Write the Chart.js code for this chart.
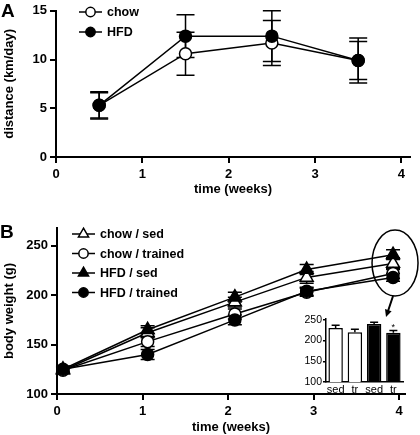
<!DOCTYPE html>
<html>
<head>
<meta charset="utf-8">
<script src="https://cdn.jsdelivr.net/npm/chart.js@4.4.1/dist/chart.umd.min.js"></script>
<style>
  body { margin: 0; background: #fff; }
  #wrap { position: relative; width: 420px; height: 435px; overflow: hidden; font-family: Arial, "Liberation Sans", sans-serif; }
  canvas { position: absolute; }
  .panel { position: absolute; font-weight: bold; font-size: 19px; color: #000; line-height: 1; }
</style>
</head>
<body>
<div id="wrap">
  <canvas id="chartA" width="420" height="210" style="left:0;top:0"></canvas>
  <canvas id="chartB" width="420" height="225" style="left:0;top:210px"></canvas>
  <canvas id="inset" width="125" height="95" style="left:290px;top:300px"></canvas>
  <div class="panel" style="left:1px;top:1px">A</div>
  <div class="panel" style="left:0;top:222px">B</div>
</div>
<script>
// ------------------ DATA ------------------
// panel A: running distance
const weeksA = [0.5, 1.5, 2.5, 3.5];
const chowDistance = [5.3, 10.6, 11.7, 9.9];
const chowDistanceErr = [1.3, 2.2, 2.3, 1.95];
const hfdDistance = [5.3, 12.4, 12.4, 9.9];
const hfdDistanceErr = [1.4, 2.2, 2.6, 2.3];
const distanceTicks = [0, 5, 10, 15];
const weekTicks = [0, 1, 2, 3, 4];

// panel B: body weight
const weeksB = [0.07, 1.06, 2.08, 2.92, 3.93];
const chowSedWeight = [124, 162, 193, 218, 232];
const chowSedErr = [3, 5, 5, 6, 6];
const chowTrWeight = [124, 153, 181, 203, 222];
const chowTrErr = [3, 5, 5, 4, 5];
const hfdSedWeight = [125, 165, 198, 226, 241];
const hfdSedErr = [3, 4, 5, 5, 5];
const hfdTrWeight = [125, 140, 175, 204, 218];
const hfdTrErr = [3, 5, 5, 4, 4];
const weightTicks = [100, 150, 200, 250];

// inset: week 4 weights
const insetLabels = ["sed", "tr", "sed", "tr"];
const insetWeights = [230, 220, 240, 219];
const insetErr = [7, 7, 4, 5];
const insetColors = ["#fff", "#fff", "#000", "#000"];
const insetStars = ["", "", "", "*"];

// ------------------ HELPERS ------------------
Chart.defaults.color = "#000";
Chart.defaults.font.family = 'Arial, "Liberation Sans", sans-serif';
const boldFont = { size: 13, weight: "bold" };

function toPoints(xs, ys) {
    return xs.map((x, i) => ({ x: x, y: ys[i] }));
}

function drawMarker(ctx, style, fill, x, y, r) {
    ctx.beginPath();
    if (style === "triangle") {
        let a = 0;
        ctx.moveTo(x + Math.sin(a) * r, y - Math.cos(a) * r);
        a += 2 * Math.PI / 3;
        ctx.lineTo(x + Math.sin(a) * r, y - Math.cos(a) * r);
        a += 2 * Math.PI / 3;
        ctx.lineTo(x + Math.sin(a) * r, y - Math.cos(a) * r);
        ctx.closePath();
    } else {
        ctx.arc(x, y, r, 0, Math.PI * 2);
    }
    ctx.fillStyle = fill;
    ctx.fill();
    ctx.lineWidth = 1.5;
    ctx.strokeStyle = "#000";
    ctx.stroke();
}

// error bars drawn behind the markers
const errorBars = {
    id: "errorBars",
    beforeDatasetsDraw(chart, args, opts) {
        const ctx = chart.ctx;
        const yScale = chart.scales.y;
        ctx.save();
        ctx.strokeStyle = "#000";
        ctx.lineWidth = opts.lineWidth || 1.5;
        chart.data.datasets.forEach((ds, i) => {
            if (!ds.err) return;
            const meta = chart.getDatasetMeta(i);
            meta.data.forEach((el, j) => {
                const v = typeof ds.data[j] === "object" ? ds.data[j].y : ds.data[j];
                const top = yScale.getPixelForValue(v + ds.err[j]);
                const bot = opts.upperOnly ? yScale.getPixelForValue(v) : yScale.getPixelForValue(v - ds.err[j]);
                const w = opts.capWidth;
                ctx.beginPath();
                ctx.moveTo(el.x, top); ctx.lineTo(el.x, bot);
                ctx.moveTo(el.x - w, top); ctx.lineTo(el.x + w, top);
                if (!opts.upperOnly) { ctx.moveTo(el.x - w, bot); ctx.lineTo(el.x + w, bot); }
                ctx.stroke();
            });
        });
        ctx.restore();
    }
};

// legend with a short line through the marker
const lineLegend = {
    id: "lineLegend",
    afterDraw(chart, args, opts) {
        const ctx = chart.ctx;
        ctx.save();
        ctx.font = "bold 12.5px Arial, 'Liberation Sans', sans-serif";
        ctx.textBaseline = "middle";
        opts.order.forEach((idx, k) => {
            const ds = chart.data.datasets[idx];
            const y = opts.y + k * opts.spacing;
            ctx.beginPath();
            ctx.moveTo(opts.x, y);
            ctx.lineTo(opts.x + opts.lineLen, y);
            ctx.lineWidth = 1.5;
            ctx.strokeStyle = "#000";
            ctx.stroke();
            drawMarker(ctx, ds.pointStyle, ds.pointBackgroundColor, opts.x + opts.lineLen / 2, y, ds.pointRadius * 0.78);
            ctx.fillStyle = "#000";
            ctx.fillText(ds.label, opts.x + opts.lineLen + opts.gap, y + 1);
        });
        ctx.restore();
    }
};

// ellipse + arrow around the week-4 points
const highlight = {
    id: "highlight",
    afterDatasetsDraw(chart) {
        const { x, y } = chart.scales;
        const last = weeksB.length - 1;
        const vals = chart.data.datasets.map(ds => ds.data[last].y);
        const cx = x.getPixelForValue(weeksB[last]) + 2;
        const cy = y.getPixelForValue((Math.max(...vals) + Math.min(...vals)) / 2) - 3;
        const rx = 23, ry = 33;
        const ctx = chart.ctx;
        ctx.save();
        ctx.strokeStyle = "#000";
        ctx.lineWidth = 1.5;
        ctx.beginPath();
        ctx.ellipse(cx, cy, rx, ry, 0, 0, Math.PI * 2);
        ctx.stroke();
        // arrow
        const x0 = cx - 2, y0 = cy + ry, x1 = cx - 9, y1 = cy + ry + 21;
        const ang = Math.atan2(y1 - y0, x1 - x0);
        ctx.lineWidth = 2;
        ctx.beginPath();
        ctx.moveTo(x0, y0);
        ctx.lineTo(x1 - Math.cos(ang) * 5, y1 - Math.sin(ang) * 5);
        ctx.stroke();
        ctx.beginPath();
        ctx.moveTo(x1, y1);
        ctx.lineTo(x1 - Math.cos(ang - 0.45) * 8, y1 - Math.sin(ang - 0.45) * 8);
        ctx.lineTo(x1 - Math.cos(ang + 0.45) * 8, y1 - Math.sin(ang + 0.45) * 8);
        ctx.closePath();
        ctx.fillStyle = "#000";
        ctx.fill();
        ctx.restore();
    }
};

const stars = {
    id: "stars",
    afterDatasetsDraw(chart) {
        const ctx = chart.ctx;
        const ds = chart.data.datasets[0];
        const meta = chart.getDatasetMeta(0);
        ctx.save();
        ctx.font = "9px Arial, 'Liberation Sans', sans-serif";
        ctx.textAlign = "center";
        ctx.textBaseline = "bottom";
        ctx.fillStyle = "#000";
        insetStars.forEach((s, j) => {
            if (!s) return;
            const top = chart.scales.y.getPixelForValue(ds.data[j] + ds.err[j]);
            ctx.fillText(s, meta.data[j].x, top + 1);
        });
        ctx.restore();
    }
};

function lineDataset(label, xs, ys, err, style, fill, order) {
    return {
        label: label,
        data: toPoints(xs, ys),
        err: err,
        borderColor: "#000",
        borderWidth: 1.5,
        pointStyle: style,
        pointRadius: style === "triangle" ? 7.5 : 6,
        pointBackgroundColor: fill,
        pointBorderColor: "#000",
        pointBorderWidth: 1.5,
        clip: false,
        order: order
    };
}

function axisX(max, height, titlePadBottom) {
    return {
        type: "linear", min: 0, max: max,
        afterBuildTicks: s => { s.ticks = weekTicks.map(v => ({ value: v })); },
        afterFit: s => { s.height = height; },
        border: { color: "#000", width: 2 },
        grid: { drawOnChartArea: false, color: "#000", lineWidth: 2, tickLength: 6 },
        ticks: { font: boldFont, padding: 4, maxRotation: 0 },
        title: { display: true, text: "time (weeks)", font: boldFont, padding: { top: 0, bottom: titlePadBottom } }
    };
}

function axisY(min, max, ticks, width, title) {
    return {
        min: min, max: max,
        afterBuildTicks: s => { s.ticks = ticks.map(v => ({ value: v })); },
        afterFit: s => { s.width = width; },
        border: { color: "#000", width: 2 },
        grid: { drawOnChartArea: false, color: "#000", lineWidth: 2, tickLength: 6 },
        ticks: { font: boldFont, padding: 3 },
        title: { display: true, text: title, font: boldFont, padding: { top: 2, bottom: 0 } }
    };
}

// ------------------ PANEL A ------------------
new Chart(document.getElementById("chartA"), {
    type: "line",
    data: {
        datasets: [
            lineDataset("chow", weeksA, chowDistance, chowDistanceErr, "circle", "#fff", 2),
            lineDataset("HFD", weeksA, hfdDistance, hfdDistanceErr, "circle", "#000", 1)
        ]
    },
    options: {
        responsive: false,
        animation: false,
        devicePixelRatio: 1,
        layout: { padding: { top: 9, right: 10, left: 0, bottom: 0 } },
        plugins: {
            legend: { display: false },
            tooltip: { enabled: false },
            errorBars: { capWidth: 9 },
            lineLegend: { x: 79, y: 12, spacing: 20, lineLen: 23, gap: 5, order: [0, 1] }
        },
        scales: {
            x: axisX(4.1, 53, 13),
            y: axisY(0, 15, distanceTicks, 56, "distance (km/day)")
        }
    },
    plugins: [errorBars, lineLegend]
});

// ------------------ PANEL B ------------------
new Chart(document.getElementById("chartB"), {
    type: "line",
    data: {
        datasets: [
            lineDataset("chow / sed", weeksB, chowSedWeight, chowSedErr, "triangle", "#fff", 4),
            lineDataset("chow / trained", weeksB, chowTrWeight, chowTrErr, "circle", "#fff", 3),
            lineDataset("HFD / sed", weeksB, hfdSedWeight, hfdSedErr, "triangle", "#000", 2),
            lineDataset("HFD / trained", weeksB, hfdTrWeight, hfdTrErr, "circle", "#000", 1)
        ]
    },
    options: {
        responsive: false,
        animation: false,
        devicePixelRatio: 1,
        layout: { padding: { top: 18, right: 15, left: 0, bottom: 0 } },
        plugins: {
            legend: { display: false },
            tooltip: { enabled: false },
            errorBars: { capWidth: 7 },
            lineLegend: { x: 72, y: 24, spacing: 19.5, lineLen: 23, gap: 5, order: [0, 1, 2, 3] }
        },
        scales: {
            x: axisX(4.07, 41, 0),
            y: axisY(100, 268, weightTicks, 57, "body weight (g)")
        }
    },
    plugins: [errorBars, lineLegend, highlight]
});

// ------------------ INSET ------------------
new Chart(document.getElementById("inset"), {
    type: "bar",
    data: {
        labels: insetLabels,
        datasets: [{
            data: insetWeights,
            err: insetErr,
            backgroundColor: insetColors,
            borderColor: "#000",
            borderWidth: 1.5,
            barPercentage: 0.75,
            categoryPercentage: 1
        }]
    },
    options: {
        responsive: false,
        animation: false,
        devicePixelRatio: 1,
        layout: { padding: { top: 19, right: 12, left: 0, bottom: 0 } },
        plugins: {
            legend: { display: false },
            tooltip: { enabled: false },
            errorBars: { capWidth: 4, upperOnly: true }
        },
        scales: {
            x: {
                afterFit: s => { s.height = 13; },
                border: { color: "#000", width: 1.5 },
                grid: { drawOnChartArea: false, drawTicks: false },
                ticks: { font: { size: 11 }, padding: 1, maxRotation: 0, autoSkip: false }
            },
            y: {
                min: 100, max: 252,
                afterBuildTicks: s => { s.ticks = weightTicks.map(v => ({ value: v })); },
                afterFit: s => { s.width = 36; },
                border: { color: "#000", width: 1.5 },
                grid: { drawOnChartArea: false, color: "#000", lineWidth: 1.5, tickLength: 3 },
                ticks: { font: { size: 10.5 }, padding: 1 }
            }
        }
    },
    plugins: [errorBars, stars]
});
</script>
</body>
</html>
